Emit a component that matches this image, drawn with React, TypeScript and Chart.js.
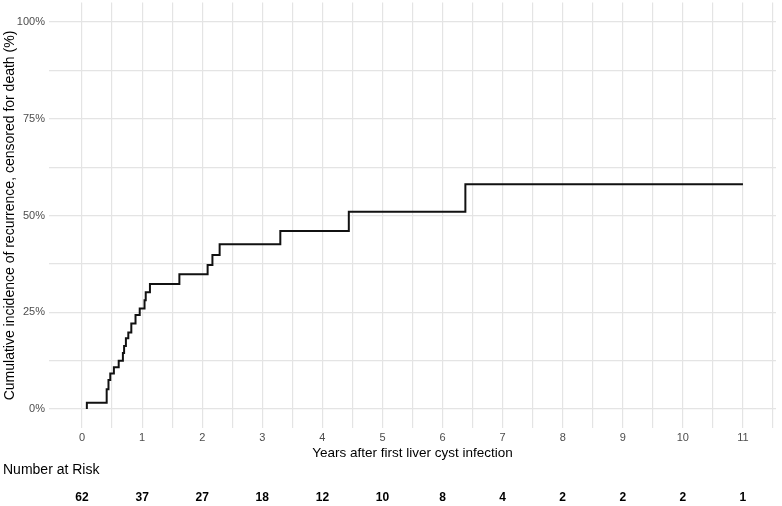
import React, { useEffect, useRef } from 'react';
import { Chart, registerables } from 'chart.js';

Chart.register(...registerables);

// Event times (years) and cumulative incidence (%)
const times = [0.08, 0.08, 0.41, 0.44, 0.47, 0.53, 0.61, 0.68, 0.70, 0.73, 0.77, 0.82, 0.89, 0.96, 1.04, 1.06, 1.13, 1.62, 2.09, 2.17, 2.29, 3.30, 4.44, 6.38, 11.0];
const incidence = [0, 1.6, 5.1, 7.5, 9.2, 10.8, 12.5, 14.5, 16.3, 18.3, 19.8, 22.1, 24.3, 26.0, 28.1, 30.2, 32.3, 34.8, 37.2, 39.8, 42.6, 46.0, 51.0, 58.1, 58.1];

const xTickValues = [0, 0.5, 1, 1.5, 2, 2.5, 3, 3.5, 4, 4.5, 5, 5.5, 6, 6.5, 7, 7.5, 8, 8.5, 9, 9.5, 10, 10.5, 11, 11.5];
const yTickValues = [0, 12.5, 25, 37.5, 50, 62.5, 75, 87.5, 100];
const yLabeled = [0, 25, 50, 75, 100];

const riskYears = [0, 1, 2, 3, 4, 5, 6, 7, 8, 9, 10, 11];
const numberAtRisk = [62, 37, 27, 18, 12, 10, 8, 4, 2, 2, 2, 1];

const xTitle = 'Years after first liver cyst infection';
const yTitle = 'Cumulative incidence of recurrence, censored for death (%)';
const riskTitle = 'Number at Risk';

const FONT = '"Liberation Sans", Arial, Helvetica, sans-serif';

const overlayPlugin = {
  id: 'overlay',
  afterDraw(chart: any) {
    const ctx = chart.ctx;
    const area = chart.chartArea;
    const xs = chart.scales.x;
    ctx.save();
    ctx.fillStyle = '#000000';
    ctx.textBaseline = 'middle';

    // x title
    ctx.font = `13.5px ${FONT}`;
    ctx.textAlign = 'center';
    ctx.fillText(xTitle, (area.left + area.right) / 2, area.bottom + 25);

    // y title
    ctx.save();
    ctx.translate(10, (area.top + area.bottom) / 2);
    ctx.rotate(-Math.PI / 2);
    ctx.font = `14px ${FONT}`;
    ctx.textAlign = 'center';
    ctx.fillText(yTitle, 0, 0);
    ctx.restore();

    // risk table title
    ctx.font = `14px ${FONT}`;
    ctx.textAlign = 'left';
    ctx.fillText(riskTitle, 3, area.bottom + 42);

    // risk numbers
    ctx.font = `bold 12px ${FONT}`;
    ctx.textAlign = 'center';
    riskYears.forEach((yr, i) => {
      ctx.fillText(String(numberAtRisk[i]), xs.getPixelForValue(yr), area.bottom + 69);
    });
    ctx.restore();
  },
};

export default function App() {
  const canvasRef = useRef<HTMLCanvasElement | null>(null);

  useEffect(() => {
    const canvas = canvasRef.current;
    if (!canvas) return;
    const chart = new Chart(canvas, {
      type: 'line',
      data: {
        datasets: [
          {
            data: times.map((t, i) => ({ x: t, y: incidence[i] })),
            stepped: 'before',
            borderColor: '#111111',
            borderWidth: 2,
            pointRadius: 0,
            fill: false,
          },
        ],
      },
      options: {
        animation: false,
        responsive: false,
        maintainAspectRatio: false,
        layout: { padding: { top: 2.6, right: 6, left: 0, bottom: 0 } },
        plugins: {
          legend: { display: false },
          tooltip: { enabled: false },
        },
        scales: {
          x: {
            type: 'linear',
            min: -0.55,
            max: 11.55,
            afterBuildTicks: (scale: any) => {
              scale.ticks = xTickValues.map((v) => ({ value: v }));
            },
            afterFit: (scale: any) => {
              scale.height = 77.6;
              scale.paddingLeft = 0;
              scale.paddingRight = 0;
            },
            ticks: {
              autoSkip: false,
              maxRotation: 0,
              padding: 3,
              color: '#4d4d4d',
              font: { family: FONT, size: 11 },
              callback: (v: any) => (Number(v) % 1 === 0 ? String(v) : ''),
            },
            grid: {
              color: '#e4e4e4',
              lineWidth: 1.2,
              drawTicks: false,
            },
            border: { display: false },
          },
          y: {
            type: 'linear',
            min: -5,
            max: 105,
            afterBuildTicks: (scale: any) => {
              scale.ticks = yTickValues.map((v) => ({ value: v }));
            },
            afterFit: (scale: any) => {
              scale.width = 49;
              scale.paddingTop = 0;
              scale.paddingBottom = 0;
            },
            ticks: {
              autoSkip: false,
              padding: 4,
              color: '#4d4d4d',
              font: { family: FONT, size: 11 },
              callback: (v: any) => (yLabeled.includes(Number(v)) ? `${v}%` : ''),
            },
            grid: {
              color: '#e4e4e4',
              lineWidth: 1.2,
              drawTicks: false,
            },
            border: { display: false },
          },
        },
      },
      plugins: [overlayPlugin],
    } as any);
    return () => chart.destroy();
  }, []);

  return (
    <div style={{ position: 'fixed', left: 0, top: 0, width: 782, height: 506, background: '#ffffff' }}>
      <canvas ref={canvasRef} width={782} height={506} />
    </div>
  );
}
